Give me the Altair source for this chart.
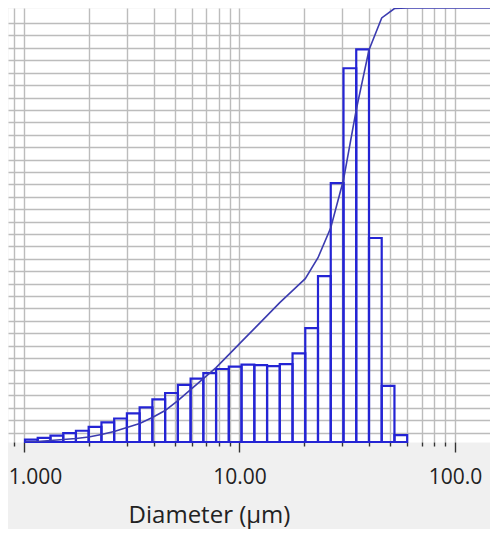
import altair as alt
import pandas as pd

# bin edges (µm)
edges = [1.011, 1.158, 1.327, 1.521, 1.742, 1.996, 2.288, 2.621, 3.003, 3.441,
         3.943, 4.518, 5.177, 5.932, 6.797, 7.788, 8.924, 10.22, 11.72, 13.43,
         15.38, 17.63, 20.20, 23.14, 26.52, 30.39, 34.82, 39.90, 45.71, 52.38, 60.02]

# volume % per bin
volume = [0.09, 0.16, 0.25, 0.35, 0.44, 0.59, 0.77, 0.92, 1.12, 1.36,
          1.67, 1.92, 2.24, 2.48, 2.70, 2.86, 2.95, 3.03, 3.01, 2.97,
          3.05, 3.47, 4.46, 6.50, 10.14, 14.64, 15.38, 7.99, 2.20, 0.27]

# cumulative undersize % at each edge
cum_d = edges + [160.0]
cumulative = [0.0, 0.12, 0.35, 0.58, 0.81, 1.15, 1.73, 2.42, 3.34, 4.26,
              5.64, 7.25, 9.55, 12.08, 14.61, 17.15, 20.14, 23.13, 26.12, 29.11,
              32.11, 34.87, 37.63, 42.46, 49.37, 60.41, 76.52, 90.33, 97.70, 99.88,
              100.0, 100.0]

x_ticks = [0.9, 1, 2, 3, 4, 5, 6, 7, 8, 9, 10, 20, 30, 40, 50, 60, 70, 80, 90, 100]

bars_df = pd.DataFrame({"lo": edges[:-1], "hi": edges[1:], "vol": volume})
cum_df = pd.DataFrame({"d": cum_d, "cum": cumulative})

GRID = "#bcbcbc"
FONT = "Open Sans"

xscale = alt.Scale(type="log", domain=[0.843, 145.4], nice=False)
xaxis = alt.Axis(
    values=x_ticks,
    grid=True, gridColor=GRID, gridWidth=1.4,
    domain=False,
    ticks=True, tickColor="#333333", tickWidth=1.4,
    tickSize={"condition": {"test": "datum.value == 1 || datum.value == 10 || datum.value == 100", "value": 10}, "value": 4},
    labelExpr="datum.value == 1 ? '1.000' : datum.value == 10 ? '10.00' : datum.value == 100 ? '100.0' : ''",
    labelOffset={"condition": {"test": "datum.value == 1", "value": 11}, "value": 0},
    labelFont=FONT, labelFontSize=21, labelColor="#222222",
    labelBaseline="alphabetic", labelPadding=31,
    labelOverlap=False, labelFlush=False,
    title="Diameter (µm)", titleFont=FONT, titleFontSize=24, titleFontWeight="normal",
    titleColor="#222222", titleX=201, titleY=80, titleAlign="center", titleBaseline="alphabetic",
)

grid_vals = [round(0.372 + 0.486 * k, 3) for k in range(34)]

bars = alt.Chart(bars_df).mark_rect(
    fillOpacity=0, stroke="#2424d4", strokeWidth=2.2
).encode(
    x=alt.X("lo:Q", scale=xscale, axis=xaxis),
    x2="hi:Q",
    y=alt.Y("vol:Q", scale=alt.Scale(domain=[0, 17.0], nice=False, zero=True),
            axis=alt.Axis(values=grid_vals, grid=True, gridColor=GRID, gridWidth=1.4,
                          labels=False, ticks=False, domain=False, title=None)),
    y2=alt.datum(0),
)

line = alt.Chart(cum_df).mark_line(
    color="#3b3bb0", strokeWidth=1.6, clip=True
).encode(
    x=alt.X("d:Q", scale=xscale, axis=xaxis),
    y=alt.Y("cum:Q", scale=alt.Scale(domain=[0, 100], nice=False), axis=None),
)

chart = alt.layer(bars, line).resolve_scale(y="independent").properties(
    width=482, height=434,
    autosize=alt.AutoSizeParams(type="none"),
    padding={"left": 0, "right": 0, "top": 0, "bottom": 87},
    background="#f0f0f0",
).configure_view(fill="white", stroke="transparent")

chart.save("out.html", embed_options={"renderer": "svg", "actions": False})
